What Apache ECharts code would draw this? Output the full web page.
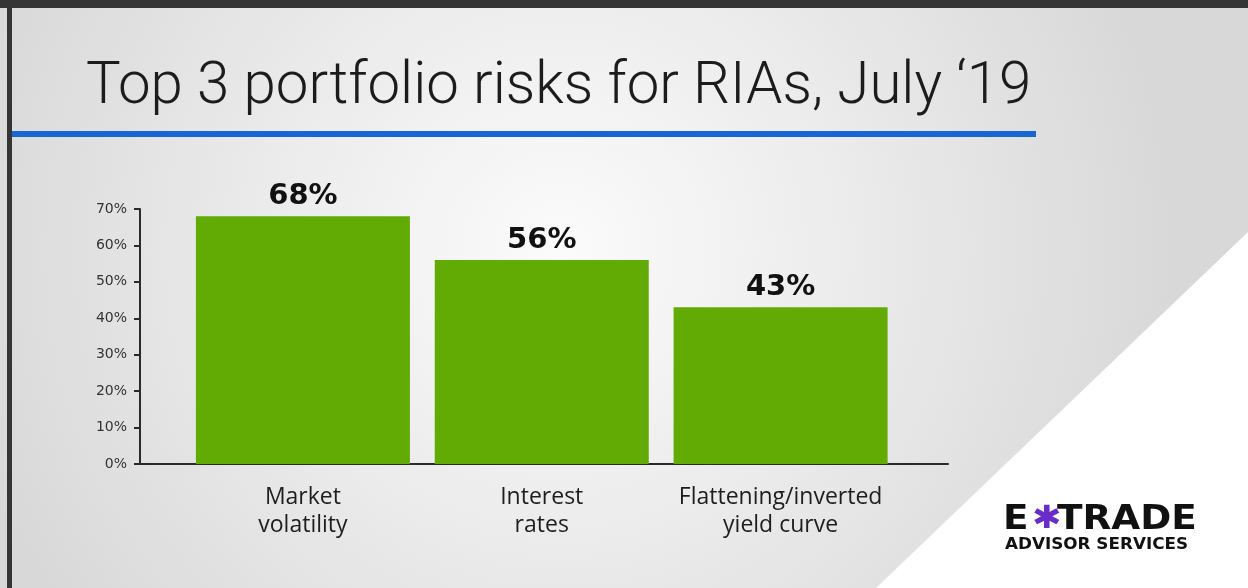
<!DOCTYPE html>
<html>
<head>
<meta charset="utf-8">
<script src="https://cdn.jsdelivr.net/npm/echarts@6/dist/echarts.min.js"></script>
<style>
html,body{margin:0;padding:0;background:#dcdcdc;}
#chart{width:1248px;height:588px;}
</style>
</head>
<body>
<div id="chart"></div>
<script>
const titleText = 'Top 3 portfolio risks for RIAs, July \u201819';
const categories = ['Market\nvolatility', 'Interest\nrates', 'Flattening/inverted\nyield curve'];
const values = [68, 56, 43];
const yMin = 0, yMax = 70, yStep = 10;

const chart = echarts.init(document.getElementById('chart'), null, {renderer: 'canvas'});

const logoFont = 'bold 34px "DejaVu Sans", sans-serif';

const option = {
  animation: false,
  backgroundColor: 'transparent',
  graphic: [
    {
      type: 'rect', z: -100, silent: true,
      shape: {x: 0, y: 0, width: 1248, height: 588},
      style: {
        fill: {
          type: 'radial', x: 560, y: 250, r: 620, global: true,
          colorStops: [
            {offset: 0, color: '#fbfbfb'},
            {offset: 0.45, color: '#ececec'},
            {offset: 1, color: '#d8d8d8'}
          ]
        }
      }
    },
    {
      type: 'polygon', z: -90, silent: true,
      shape: {points: [[1248, 232], [1248, 588], [876, 588]]},
      style: {fill: '#ffffff'}
    },
    {type: 'rect', z: -80, silent: true, shape: {x: 0, y: 0, width: 1248, height: 8}, style: {fill: '#353535'}},
    {type: 'rect', z: -80, silent: true, shape: {x: 7, y: 0, width: 5, height: 588}, style: {fill: '#353535'}},
    {type: 'rect', z: -80, silent: true, shape: {x: 12, y: 131, width: 1024, height: 6}, style: {fill: '#1766d6'}},
    {
      type: 'text', z: 10, silent: true, left: 86, top: 58, scaleX: 0.97,
      style: {
        text: titleText,
        fill: '#1c1c1c',
        font: '300 60px Roboto, "Noto Sans", sans-serif'
      }
    },
    {
      type: 'text', z: 10, silent: true, left: 1003, top: 503, scaleX: 1.1,
      style: {text: 'E', fill: '#111', font: logoFont}
    },
    {
      type: 'text', z: 11, silent: true, left: 1032, top: 504, scaleX: 1.1,
      style: {
        text: '\u2731', font: 'bold 32px "DejaVu Sans", sans-serif',
        fill: '#6a2cc8'
      }
    },
    {
      type: 'text', z: 10, silent: true, left: 1057, top: 503, scaleX: 1.1,
      style: {text: 'TRADE', fill: '#111', font: logoFont}
    },
    {
      type: 'text', z: 10, silent: true, left: 1005, top: 538, scaleX: 1.12,
      style: {
        text: 'ADVISOR SERVICES',
        fill: '#111',
        font: 'bold 15px "DejaVu Sans", sans-serif'
      }
    }
  ],
  grid: [
    {left: 140, right: 300, top: 209, bottom: 124},
    {left: 183.5, right: 348, top: 209, bottom: 124}
  ],
  xAxis: [
    {
      gridIndex: 0, type: 'value', min: 0, max: 1,
      axisLine: {show: true, lineStyle: {color: '#2a2a2a', width: 2}},
      axisTick: {show: false}, axisLabel: {show: false}, splitLine: {show: false}
    },
    {
      gridIndex: 1, type: 'category', data: categories,
      axisLine: {show: false}, axisTick: {show: false}, splitLine: {show: false},
      axisLabel: {
        interval: 0, margin: 19, color: '#1e1e1e', lineHeight: 28,
        fontFamily: '"Open Sans", sans-serif', fontSize: 23
      }
    }
  ],
  yAxis: [
    {
      gridIndex: 0, type: 'value', min: yMin, max: yMax, interval: yStep,
      axisLine: {show: true, lineStyle: {color: '#2a2a2a', width: 2}},
      axisTick: {show: true, length: 6, lineStyle: {color: '#2a2a2a', width: 2}},
      splitLine: {show: false},
      axisLabel: {
        margin: 13, color: '#333', fontFamily: '"DejaVu Sans", sans-serif', fontSize: 14,
        formatter: '{value}%'
      }
    },
    {
      gridIndex: 1, type: 'value', min: yMin, max: yMax, show: false
    }
  ],
  series: [
    {
      type: 'bar', xAxisIndex: 1, yAxisIndex: 1,
      data: values, barWidth: 214,
      itemStyle: {color: '#62ab04'},
      label: {
        show: true, position: 'top', distance: 5,
        formatter: '{c}%', color: '#111',
        fontFamily: '"DejaVu Sans", sans-serif', fontWeight: 'bold', fontSize: 29
      }
    }
  ]
};
chart.setOption(option);
</script>
</body>
</html>
